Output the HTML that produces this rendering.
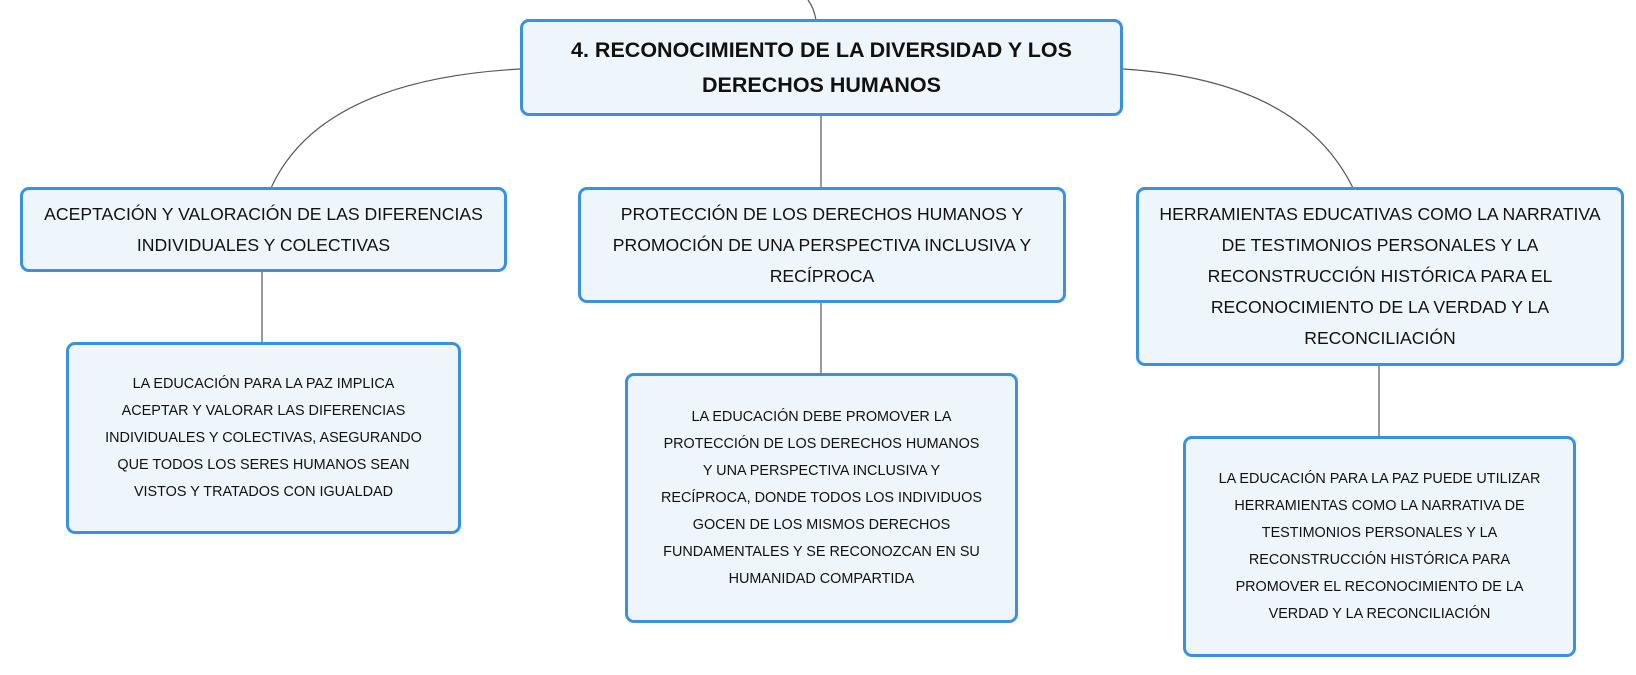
<!DOCTYPE html>
<html><head><meta charset="utf-8"><style>
html,body{margin:0;padding:0;background:#fff;width:1636px;height:675px;overflow:hidden;position:relative;font-family:"Liberation Sans",sans-serif;color:#111}
.b{position:absolute;box-sizing:border-box;border:3px solid #3a91e0;border-radius:9px;background:#eef6fc;display:flex;align-items:center;justify-content:center;text-align:center;white-space:nowrap}
.r{font-weight:bold;font-size:21.5px;line-height:35px}
.l1{font-size:17.6px;line-height:31px}
.l2{font-size:14.4px;line-height:27px}
svg{position:absolute;left:0;top:0}
</style></head><body>
<svg width="1636" height="675"><g stroke="#555" stroke-width="1.2" fill="none">
<path d="M808 0 Q814 8 816 20"/>
<path d="M520 69 Q320 80 271 188"/>
<path d="M1123 69 Q1300 80 1353 188"/>
<path d="M821 116 V188"/>
<path d="M262 272 V342"/>
<path d="M821 303 V373"/>
<path d="M1379 366 V436"/>
</g></svg>
<div class="b r" style="left:520px;top:19px;width:603px;height:97px">4. RECONOCIMIENTO DE LA DIVERSIDAD Y LOS<br>DERECHOS HUMANOS</div>
<div class="b l1" style="left:20px;top:187px;width:487px;height:85px">ACEPTACIÓN Y VALORACIÓN DE LAS DIFERENCIAS<br>INDIVIDUALES Y COLECTIVAS</div>
<div class="b l1" style="left:578px;top:187px;width:488px;height:116px">PROTECCIÓN DE LOS DERECHOS HUMANOS Y<br>PROMOCIÓN DE UNA PERSPECTIVA INCLUSIVA Y<br>RECÍPROCA</div>
<div class="b l1" style="left:1136px;top:187px;width:488px;height:179px">HERRAMIENTAS EDUCATIVAS COMO LA NARRATIVA<br>DE TESTIMONIOS PERSONALES Y LA<br>RECONSTRUCCIÓN HISTÓRICA PARA EL<br>RECONOCIMIENTO DE LA VERDAD Y LA<br>RECONCILIACIÓN</div>
<div class="b l2" style="left:66px;top:342px;width:395px;height:192px">LA EDUCACIÓN PARA LA PAZ IMPLICA<br>ACEPTAR Y VALORAR LAS DIFERENCIAS<br>INDIVIDUALES Y COLECTIVAS, ASEGURANDO<br>QUE TODOS LOS SERES HUMANOS SEAN<br>VISTOS Y TRATADOS CON IGUALDAD</div>
<div class="b l2" style="left:625px;top:373px;width:393px;height:250px">LA EDUCACIÓN DEBE PROMOVER LA<br>PROTECCIÓN DE LOS DERECHOS HUMANOS<br>Y UNA PERSPECTIVA INCLUSIVA Y<br>RECÍPROCA, DONDE TODOS LOS INDIVIDUOS<br>GOCEN DE LOS MISMOS DERECHOS<br>FUNDAMENTALES Y SE RECONOZCAN EN SU<br>HUMANIDAD COMPARTIDA</div>
<div class="b l2" style="left:1183px;top:436px;width:393px;height:221px">LA EDUCACIÓN PARA LA PAZ PUEDE UTILIZAR<br>HERRAMIENTAS COMO LA NARRATIVA DE<br>TESTIMONIOS PERSONALES Y LA<br>RECONSTRUCCIÓN HISTÓRICA PARA<br>PROMOVER EL RECONOCIMIENTO DE LA<br>VERDAD Y LA RECONCILIACIÓN</div>
</body></html>
